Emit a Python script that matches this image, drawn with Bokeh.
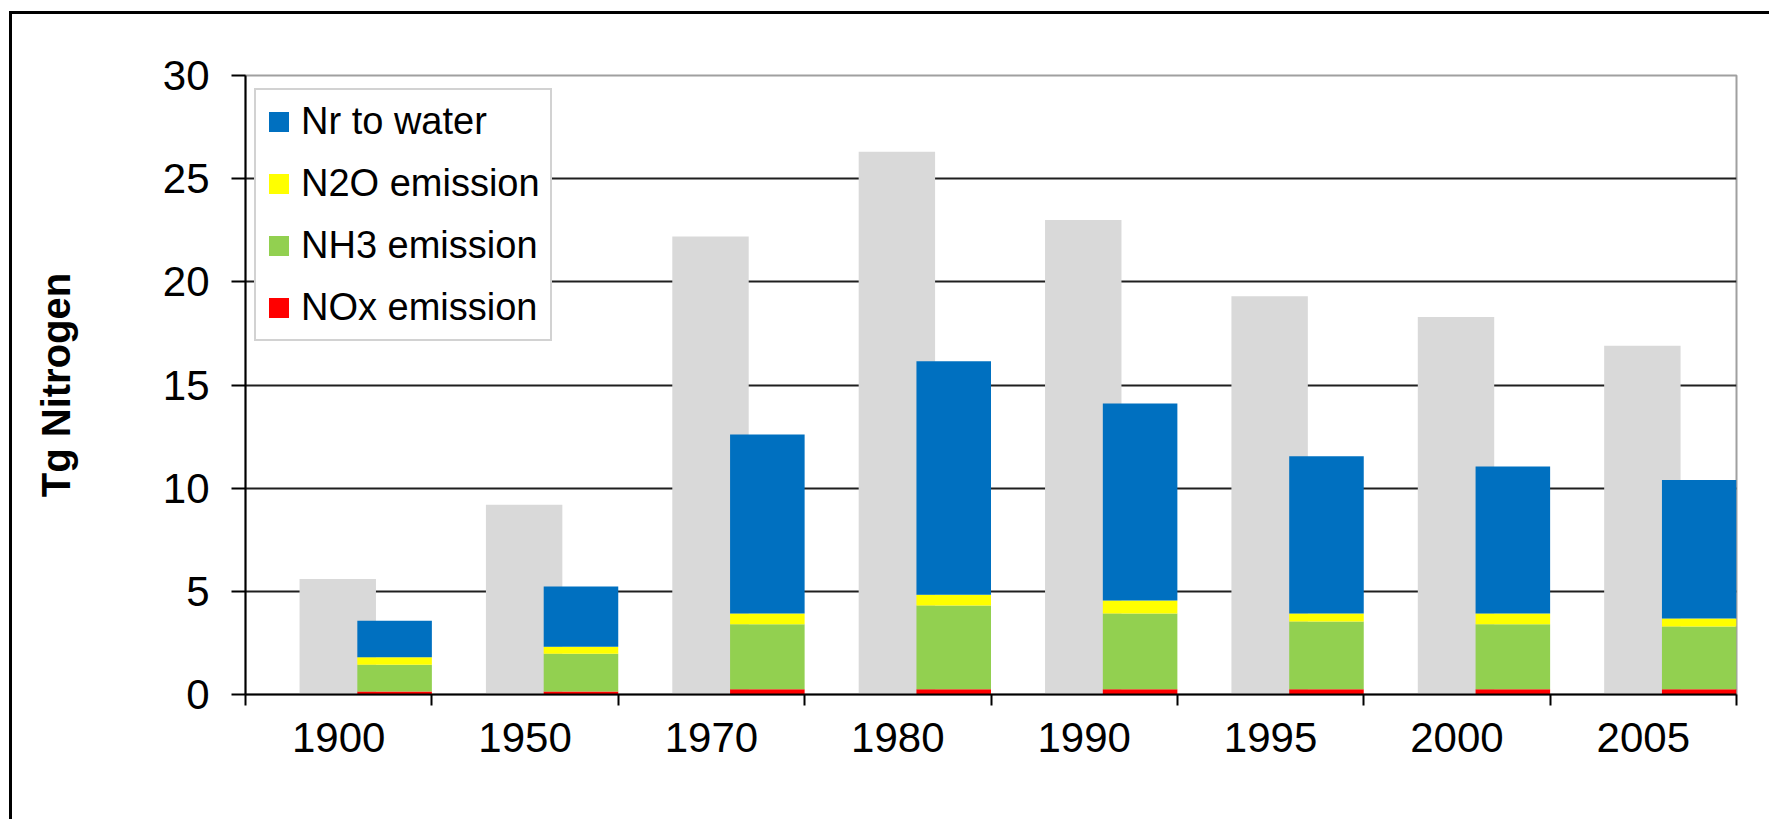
from bokeh.plotting import figure
from bokeh.models import Range1d, FixedTicker, Legend, LegendItem, ColumnDataSource
from bokeh.embed import file_html
from bokeh.resources import INLINE

# ---- data ----
years = ["1900", "1950", "1970", "1980", "1990", "1995", "2000", "2005"]
total_nr = [5.6, 9.2, 22.2, 26.3, 23.0, 19.3, 18.3, 16.9]       # grey bars
nox_emission = [0.15, 0.15, 0.25, 0.25, 0.25, 0.25, 0.25, 0.25]
nh3_emission = [1.29, 1.82, 3.16, 4.06, 3.68, 3.29, 3.16, 3.05]
n2o_emission = [0.36, 0.35, 0.52, 0.52, 0.63, 0.39, 0.52, 0.38]
nr_to_water = [1.78, 2.92, 8.67, 11.32, 9.54, 7.62, 7.12, 6.72]
y_ticks = [0, 5, 10, 15, 20, 25, 30]

series_names = ["NOx emission", "NH3 emission", "N2O emission", "Nr to water"]
series_colors = ["#FF0000", "#92D050", "#FFFF00", "#0070C0"]

FONT = "Liberation Sans"
n = len(years)

src = ColumnDataSource(dict(
    xg=[i + 0.495 for i in range(n)],
    xs=[i + 0.80 for i in range(n)],
    total=total_nr,
    nox=nox_emission,
    nh3=nh3_emission,
    n2o=n2o_emission,
    water=nr_to_water,
))

# outer black frame (top/left) drawn with CSS; canvas offset so the frame sits where it does in the reference
OFF_X, OFF_Y = 12, 14
p = figure(width=1772 - OFF_X, height=822 - OFF_Y, output_backend="svg", toolbar_location=None,
           x_range=Range1d(0, n), y_range=Range1d(0, 30),
           min_border_left=245 - OFF_X, min_border_right=36,
           min_border_top=75 - OFF_Y, min_border_bottom=128,
           styles={"margin-left": "9px", "margin-top": "11px",
                   "border-left": "3px solid black", "border-top": "3px solid black"})
p.background_fill_color = "white"
p.border_fill_color = "white"
p.outline_line_color = "#A0A0A0"
p.outline_line_width = 2

# grey bars behind
p.vbar(x="xg", top="total", width=0.41, source=src, fill_color="#D9D9D9", line_color=None)

# stacked bars
renderers = p.vbar_stack(["nox", "nh3", "n2o", "water"], x="xs", width=0.40, source=src,
                         color=series_colors, line_color=None)

# axes
p.xaxis.ticker = FixedTicker(ticks=[i + 0.5 for i in range(n)], minor_ticks=list(range(n + 1)))
p.xaxis.major_label_overrides = {i + 0.5: years[i] for i in range(n)}
p.xaxis.major_tick_out = 0
p.xaxis.major_tick_in = 0
p.xaxis.minor_tick_out = 11
p.xaxis.minor_tick_in = 0
p.xaxis.minor_tick_line_color = "black"
p.xaxis.minor_tick_line_width = 2
p.xaxis.axis_line_color = "black"
p.xaxis.axis_line_width = 2
p.xaxis.major_label_text_font = FONT
p.xaxis.major_label_text_font_size = "42px"
p.xaxis.major_label_text_color = "black"
p.xaxis.major_label_standoff = 17

p.yaxis.ticker = FixedTicker(ticks=y_ticks)
p.yaxis.major_tick_out = 14
p.yaxis.major_tick_in = 0
p.yaxis.minor_tick_out = 0
p.yaxis.minor_tick_in = 0
p.yaxis.major_tick_line_color = "black"
p.yaxis.major_tick_line_width = 2
p.yaxis.axis_line_color = "black"
p.yaxis.axis_line_width = 2
p.yaxis.major_label_text_font = FONT
p.yaxis.major_label_text_font_size = "42px"
p.yaxis.major_label_text_color = "black"
p.yaxis.major_label_standoff = 22
p.yaxis.axis_label = "Tg Nitrogen"
p.yaxis.axis_label_text_font = FONT
p.yaxis.axis_label_text_font_size = "40px"
p.yaxis.axis_label_text_font_style = "bold"
p.yaxis.axis_label_text_color = "black"
p.yaxis.axis_label_standoff = 82

p.xgrid.grid_line_color = None
p.ygrid.ticker = FixedTicker(ticks=[5, 10, 15, 20, 25])
p.ygrid.grid_line_color = "#1F1F1F"
p.ygrid.grid_line_width = 2

# legend (top entry = top of stack)
items = [LegendItem(label=series_names[k], renderers=[renderers[k]]) for k in [3, 2, 1, 0]]
legend = Legend(items=items, location=(9, 353), margin=0,
                label_text_font=FONT, label_text_font_size="38px", label_text_color="black",
                glyph_width=25, glyph_height=25, label_standoff=10,
                label_height=43, spacing=19, padding=10,
                border_line_color="#A6A6A6", border_line_width=2,
                background_fill_color="white", background_fill_alpha=1.0)
p.add_layout(legend)

open("out.html", "w").write(file_html(p, INLINE))
